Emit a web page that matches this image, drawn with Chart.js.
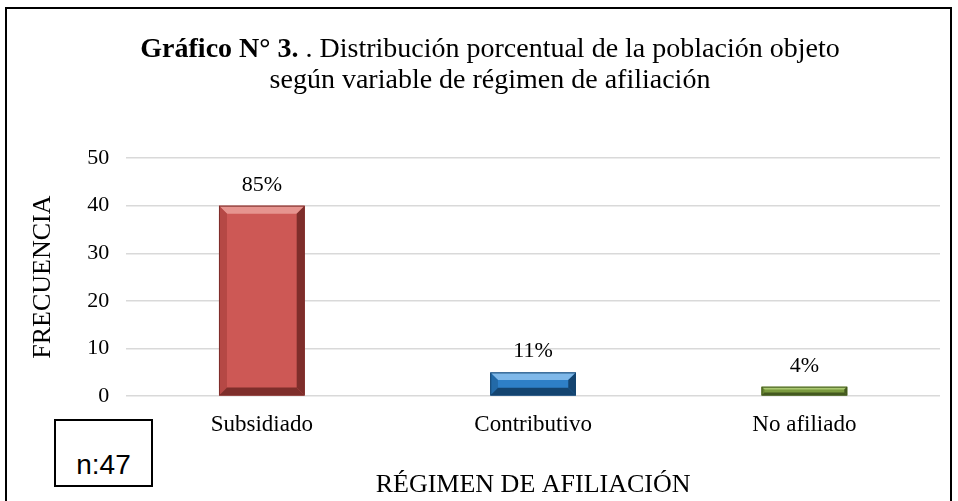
<!DOCTYPE html>
<html lang="es">
<head>
<meta charset="UTF-8">
<title>Gráfico N° 3</title>
<script src="https://cdn.jsdelivr.net/npm/chart.js"></script>
<style>
    body { margin: 0; background: #fff; }
    #marco { position: absolute; left: 5px; top: 7px; width: 947px; height: 520px; border: 2px solid #000; border-bottom: none; box-sizing: border-box; }
    #wrap { position: absolute; left: 0; top: 0; width: 958px; height: 501px; }
    #titulo { position: absolute; left: 0; top: 32px; width: 980px; text-align: center; font-family: "Liberation Serif", serif; font-size: 28px; line-height: 31px; color: #000; }
    #n { position: absolute; left: 54px; top: 419px; width: 99px; height: 68px; border: 2px solid #000; box-sizing: border-box; font-family: "Liberation Sans", Arial, sans-serif; font-size: 28px; line-height: 28px; text-align: center; padding-top: 30px; background: #fff; }
</style>
</head>
<body>
<div id="marco"></div>
<div id="wrap"><canvas id="grafico" width="958" height="501"></canvas></div>
<div id="titulo"><b>Gráfico N° 3.</b> . Distribución porcentual de la población objeto<br>según variable de régimen de afiliación</div>
<div id="n">n:47</div>
<script>
    // datos
    const categorias = ["Subsidiado", "Contributivo", "No afiliado"];
    const frecuencias = [40, 5, 2];
    const porcentajes = ["85%", "11%", "4%"];
    const colores = ["#cd5855", "#2e7fc7", "#7b9b3f"];
    const claros = ["#e6948f", "#7fb8e9", "#aac872"];
    const medios = ["#b54845", "#236aa8", "#66842f"];
    const oscuros = ["#7e2e2b", "#144470", "#44591f"];

    // efecto de bisel en las barras (como en Excel)
    const bisel = {
        id: "bisel",
        afterDatasetsDraw(chart) {
            const ctx = chart.ctx;
            const meta = chart.getDatasetMeta(0);
            meta.data.forEach((bar, i) => {
                const l = bar.x - bar.width / 2, r = bar.x + bar.width / 2;
                const t = bar.y, b = bar.base;
                const s = Math.min(8, (b - t) / 3, bar.width / 4);
                const poly = (pts, c) => {
                    ctx.beginPath();
                    ctx.moveTo(pts[0][0], pts[0][1]);
                    pts.slice(1).forEach(p => ctx.lineTo(p[0], p[1]));
                    ctx.closePath();
                    ctx.fillStyle = c;
                    ctx.fill();
                };
                ctx.save();
                poly([[l, t], [r, t], [r - s, t + s], [l + s, t + s]], claros[i]);
                poly([[l, t], [l + s, t + s], [l + s, b - s], [l, b]], medios[i]);
                poly([[r, t], [r - s, t + s], [r - s, b - s], [r, b]], oscuros[i]);
                poly([[l, b], [l + s, b - s], [r - s, b - s], [r, b]], oscuros[i]);
                ctx.strokeStyle = oscuros[i];
                ctx.lineWidth = 1;
                ctx.strokeRect(l + 0.5, t + 0.5, r - l - 1, b - t - 1);
                ctx.restore();
            });
        }
    };

    // etiquetas de porcentaje encima de cada barra
    const etiquetas = {
        id: "etiquetas",
        afterDatasetsDraw(chart) {
            const ctx = chart.ctx;
            const meta = chart.getDatasetMeta(0);
            ctx.save();
            ctx.font = "22px 'Liberation Serif'";
            ctx.fillStyle = "#000";
            ctx.textAlign = "center";
            ctx.textBaseline = "alphabetic";
            meta.data.forEach((bar, i) => {
                ctx.fillText(porcentajes[i], bar.x, bar.y - 15);
            });
            ctx.restore();
        }
    };

    new Chart(document.getElementById("grafico"), {
        type: "bar",
        data: {
            labels: categorias,
            datasets: [{
                data: frecuencias,
                backgroundColor: colores,
                borderWidth: 0,
                barPercentage: 0.316,
                categoryPercentage: 1
            }]
        },
        options: {
            responsive: false,
            animation: false,
            layout: { padding: { top: 158, left: 28, right: 18, bottom: 0 } },
            plugins: { legend: { display: false }, tooltip: { enabled: false } },
            scales: {
                x: {
                    grid: { display: false, drawTicks: false },
                    border: { display: false },
                    ticks: { color: "#000", font: { family: "Liberation Serif", size: 23 }, padding: 15 },
                    title: { display: true, text: "RÉGIMEN DE AFILIACIÓN", color: "#000", font: { family: "Liberation Serif", size: 26 }, padding: { top: 16, bottom: 0 } }
                },
                y: {
                    min: 0,
                    max: 50,
                    ticks: { stepSize: 10, color: "#000", font: { family: "Liberation Serif", size: 22 }, padding: 17 },
                    grid: { color: "#d9d9d9", lineWidth: 1.5, drawTicks: false },
                    border: { display: false },
                    title: { display: true, text: "FRECUENCIA", color: "#000", font: { family: "Liberation Serif", size: 26 }, padding: { top: 0, bottom: 11 } }
                }
            }
        },
        plugins: [bisel, etiquetas]
    });
</script>
</body>
</html>
